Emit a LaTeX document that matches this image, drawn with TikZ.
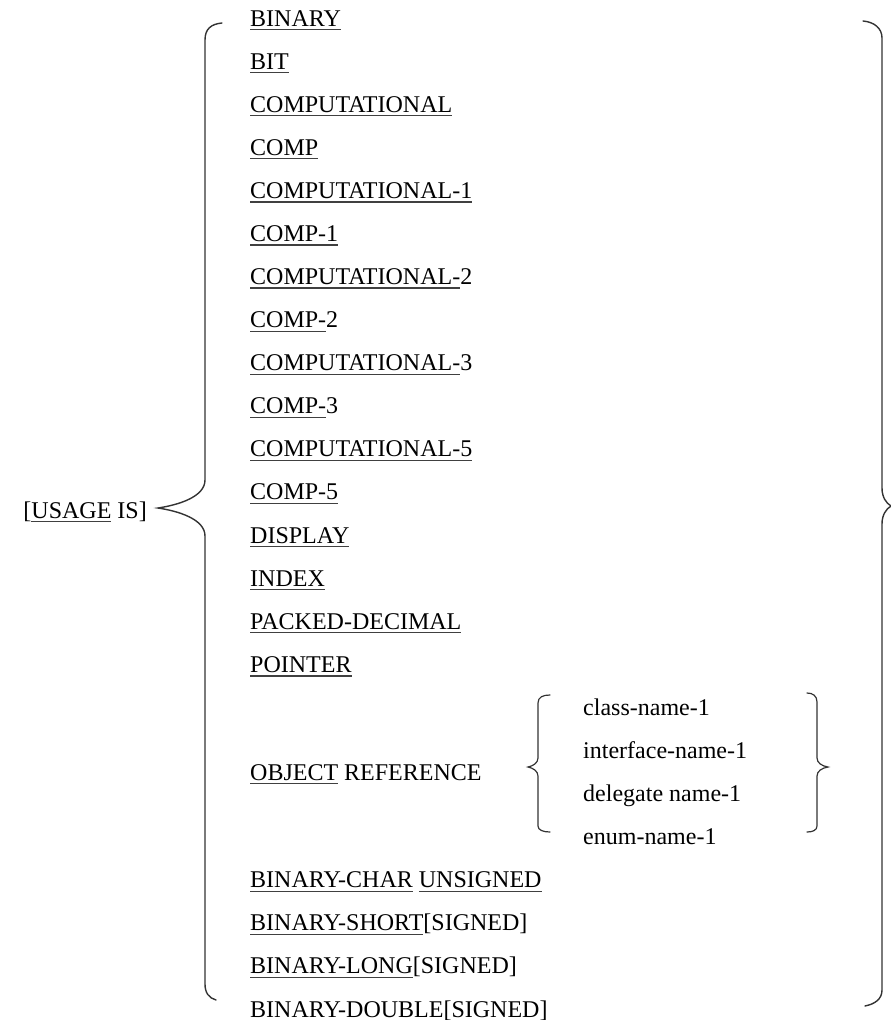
\documentclass[tikz,border=0pt]{standalone}
\usepackage{fontspec}
\setmainfont{Liberation Serif}
\newsavebox\ulbox
\newcommand\ulx[1]{\sbox\ulbox{#1}\rlap{\color{black!75}\rule[-4.2pt]{\wd\ulbox}{1.3pt}}\usebox\ulbox}
\begin{document}
\begin{tikzpicture}[x=1pt,y=-1pt,
  item/.style={anchor=base west,inner sep=0pt,font=\fontsize{24}{28}\selectfont},
  brace/.style={draw=black!80,line width=1.4pt,line cap=round}]
\useasboundingbox (0,0) rectangle (891,1020);
\def\rs{43.09}
\node[item] (r0) at (250,{26+\rs*0}) {\ulx{BINARY}};
\node[item] (r1) at (250,{26+\rs*1}) {\ulx{BIT}};
\node[item] (r2) at (250,{26+\rs*2}) {\ulx{COMPUTATIONAL}};
\node[item] (r3) at (250,{26+\rs*3}) {\ulx{COMP}};
\node[item] (r4) at (250,{26+\rs*4}) {\ulx{COMPUTATIONAL-1}};
\node[item] (r5) at (250,{26+\rs*5}) {\ulx{COMP-1}};
\node[item] (r6) at (250,{26+\rs*6}) {\ulx{COMPUTATIONAL-}2};
\node[item] (r7) at (250,{26+\rs*7}) {\ulx{COMP-}2};
\node[item] (r8) at (250,{26+\rs*8}) {\ulx{COMPUTATIONAL-}3};
\node[item] (r9) at (250,{26+\rs*9}) {\ulx{COMP-}3};
\node[item] (r10) at (250,{26+\rs*10}) {\ulx{COMPUTATIONAL-5}};
\node[item] (r11) at (250,{26+\rs*11}) {\ulx{COMP-5}};
\node[item] (r12) at (250,{26+\rs*12}) {\ulx{DISPLAY}};
\node[item] (r13) at (250,{26+\rs*13}) {\ulx{INDEX}};
\node[item] (r14) at (250,{26+\rs*14}) {\ulx{PACKED-DECIMAL}};
\node[item] (r15) at (250,{26+\rs*15}) {\ulx{POINTER}};
\node[item] (obj) at (250,{26+\rs*17.5}) {\ulx{OBJECT} REFERENCE};
\node[item] (s1) at (583,{26+\rs*16}) {class-name-1};
\node[item] (s2) at (583,{26+\rs*17}) {interface-name-1};
\node[item] (s3) at (583,{26+\rs*18}) {delegate name-1};
\node[item] (s4) at (583,{26+\rs*19}) {enum-name-1};
\node[item] (r20) at (250,{26+\rs*20}) {\ulx{BINARY-CHAR} \ulx{UNSIGNED}};
\node[item] (r21) at (250,{26+\rs*21}) {\ulx{BINARY-SHORT}[SIGNED]};
\node[item] (r22) at (250,{26+\rs*22}) {\ulx{BINARY-LONG}[SIGNED]};
\node[item] (r23) at (250,{26+\rs*23}) {\ulx{BINARY-DOUBLE}[SIGNED]};
\node[item,anchor=base east] (usage) at (147,518) {[\ulx{USAGE} IS]};
% main left brace
\draw[brace] (222,23) .. controls (211,24) and (205,29) .. (205,40) -- (205,480)
  .. controls (205,497) and (178,505) .. (158,508)
  .. controls (178,511) and (205,519) .. (205,536) -- (205,984)
  .. controls (205,993) and (209,998) .. (216,1000);
% main right brace
\draw[brace] (863,21) .. controls (874,22) and (882,28) .. (882,38) -- (882,488)
  .. controls (882,497) and (886,503) .. (891,506)
  .. controls (886,509) and (882,515) .. (882,524) -- (882,990)
  .. controls (882,999) and (875,1004) .. (865,1006);
% sub left brace
\draw[brace,line width=1.2pt] (550,695) .. controls (543,695) and (538,697) .. (538,703) -- (538,758)
  .. controls (538,763) and (533,766) .. (528,767)
  .. controls (533,768) and (538,771) .. (538,776) -- (538,826)
  .. controls (538,830) and (543,832) .. (550,832);
% sub right brace
\draw[brace,line width=1.2pt] (807,693) .. controls (813,693) and (817,696) .. (817,702) -- (817,758)
  .. controls (817,763) and (822,766) .. (828,767)
  .. controls (822,768) and (817,771) .. (817,776) -- (817,826)
  .. controls (817,830) and (813,832) .. (807,832);
\end{tikzpicture}
\end{document}
